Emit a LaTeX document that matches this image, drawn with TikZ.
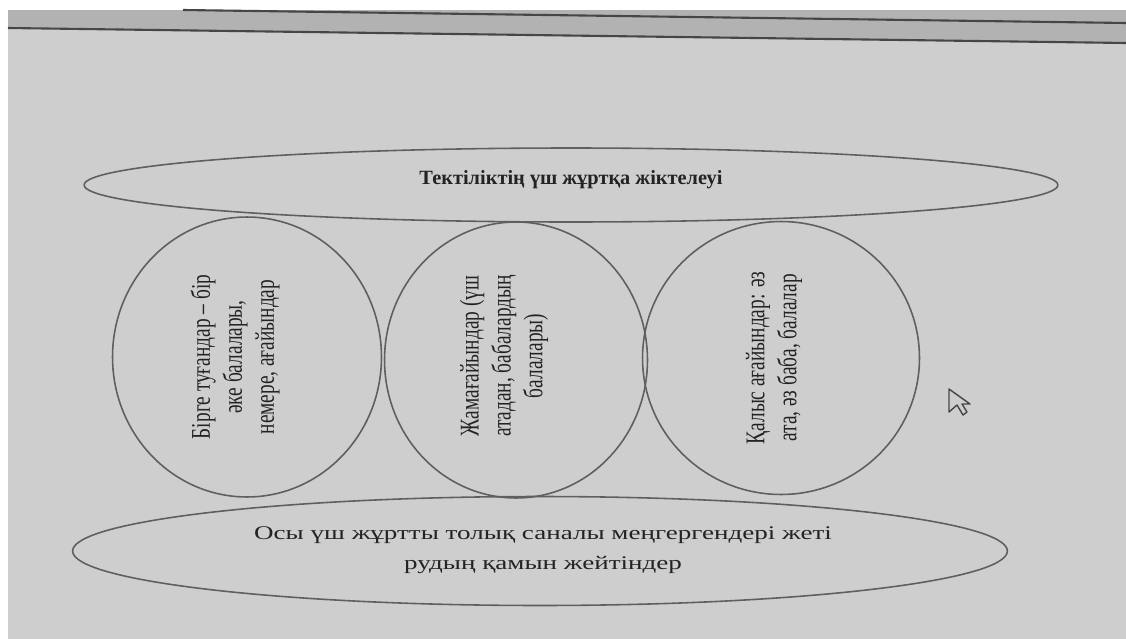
\documentclass[tikz,border=0pt]{standalone}
\usepackage{fontspec}
\setmainfont{Liberation Serif}
\usetikzlibrary{shapes.geometric}
\definecolor{screengray}{RGB}{206,206,206}
\definecolor{bandgray}{RGB}{178,178,178}
\definecolor{edgegray}{RGB}{70,70,70}
\definecolor{outlinegray}{RGB}{95,95,95}
\definecolor{inkgray}{RGB}{35,35,35}
\begin{document}
\begin{tikzpicture}[x=0.02cm,y=-0.02cm,
  oval/.style={draw=outlinegray,line width=0.9pt,ellipse,inner sep=0pt},
  txt/.style={text=inkgray,font=\fontsize{11}{13}\selectfont,align=center,xscale=1.4},
  vtxt/.style={text=inkgray,font=\fontsize{11}{13}\selectfont,align=center,rotate=90,yscale=1.4}]
\useasboundingbox (0,0) rectangle (1126,639);
\fill[white] (0,0) rectangle (1126,639);
\fill[screengray] (8,10) rectangle (1126,639);
\fill[bandgray] (8,10) -- (1126,10) -- (1126,43) -- (8,28) -- cycle;
\draw[edgegray,line width=1.2pt] (8,28) -- (1126,43);
\draw[edgegray,line width=1.2pt] (183,10) -- (1126,23);

\node[oval,minimum width=19.48cm,minimum height=1.48cm] (kin) at (571,185) {};
\node[txt,xscale=0.72,font=\fontsize{11.5}{13}\selectfont\bfseries] (kintext) at (571,180) {Тектіліктің үш жұртқа жіктелеуі};

\node[oval,minimum width=5.38cm,minimum height=5.6cm] (own) at (247,357) {};
\node[oval,minimum width=5.26cm,minimum height=5.52cm] (cousins) at (516,360) {};
\node[oval,minimum width=5.54cm,minimum height=5.46cm] (distant) at (781,358) {};

\node[vtxt] (owntext) at (235,357) {Бірге туғандар – бір\\әке балалары,\\немере, ағайындар};
\node[vtxt] (cousinstext) at (504,356) {Жамағайындар (үш\\атадан, бабалардың\\балалары)};
\node[vtxt] (distanttext) at (774,358) {Қалыс ағайындар: әз\\ата, әз баба, балалар};

\node[oval,minimum width=18.7cm,minimum height=2.18cm] (seven) at (540,551) {};
\node[txt,font=\fontsize{11}{17}\selectfont] (seventext) at (543,550) {Осы үш жұртты толық саналы меңгергендері жеті\\рудың қамын жейтіндер};

\draw[edgegray,line width=0.8pt,line join=round] (949,389) -- (949,412) -- (957,405) -- (963,415) -- (967,412) -- (962,404) -- (970,404) -- cycle;
\end{tikzpicture}
\end{document}
